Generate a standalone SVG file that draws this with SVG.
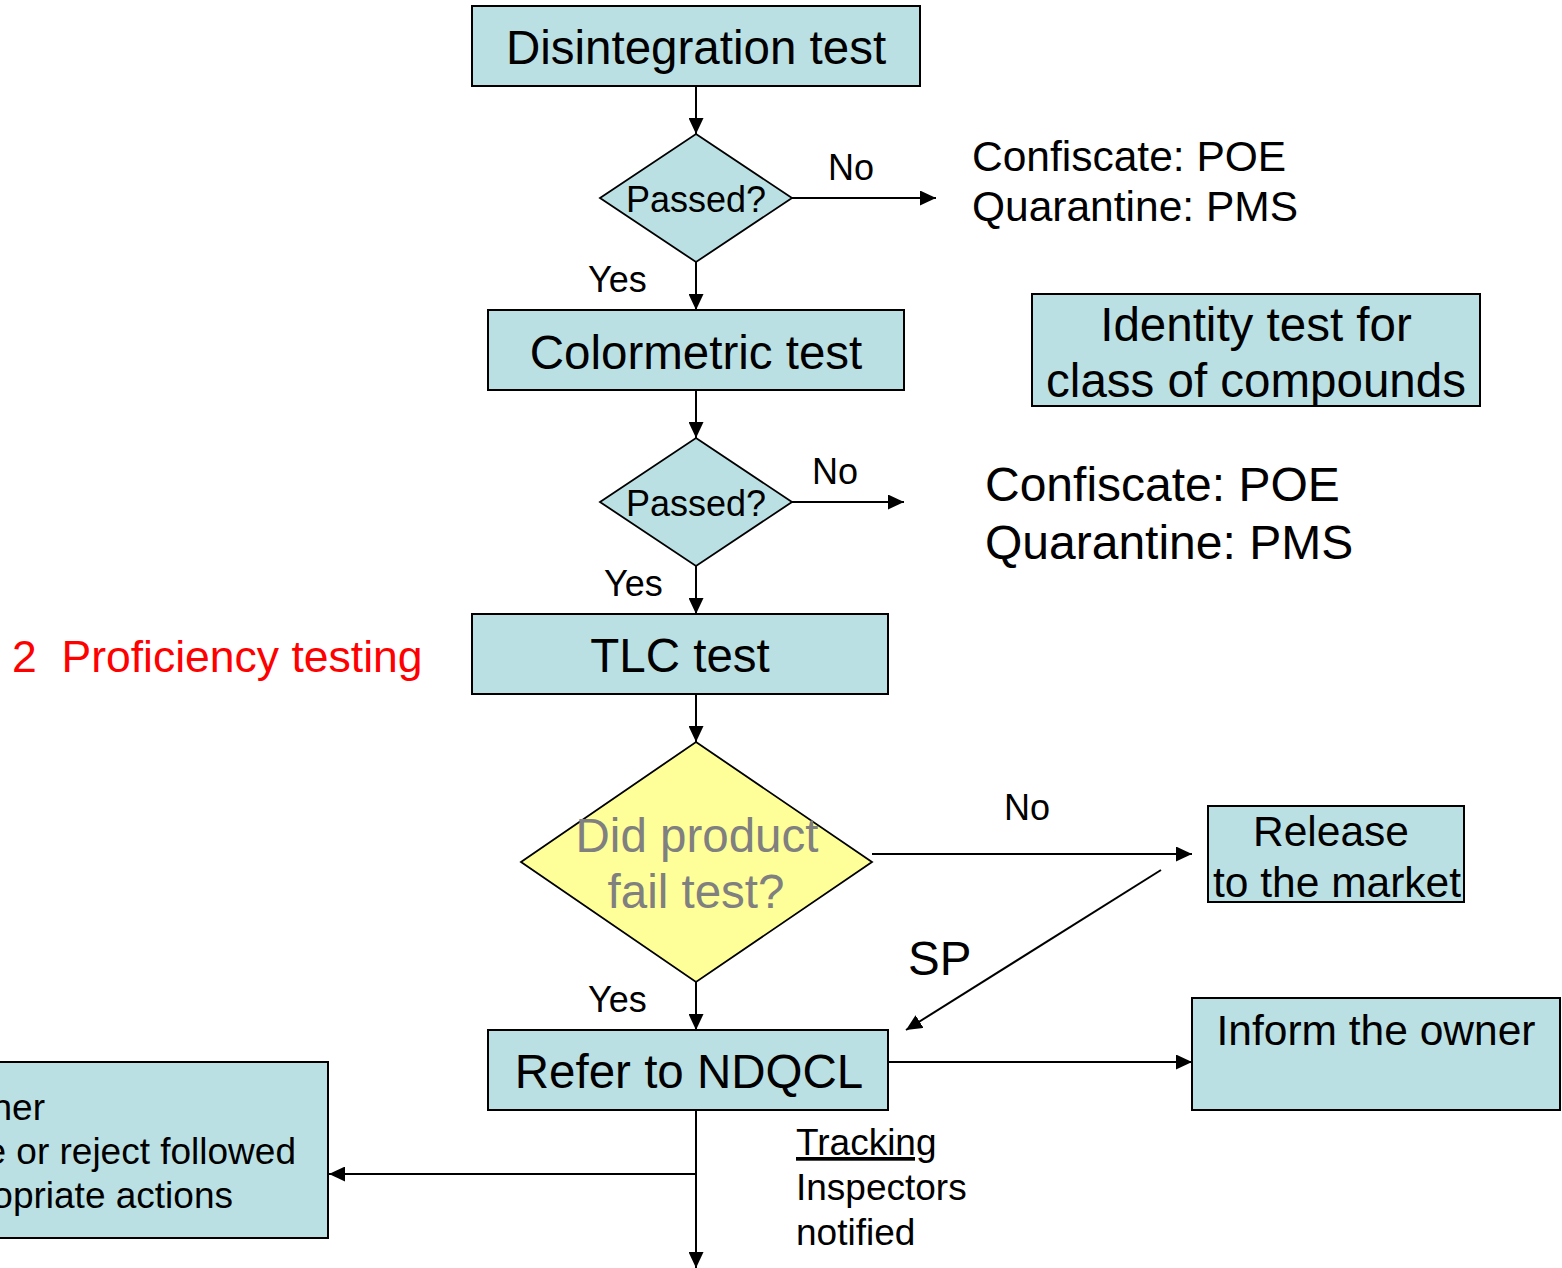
<svg xmlns="http://www.w3.org/2000/svg" width="1562" height="1268" viewBox="0 0 1562 1268">
<style>
.box{fill:#BBE0E3;stroke:#000;stroke-width:2}
.dec{fill:#BBE0E3;stroke:#000;stroke-width:1.8}
.ydec{fill:#FFFF99;stroke:#000;stroke-width:1.8}
text{font-family:"Liberation Sans",Arial,sans-serif;fill:#000}
.c{text-anchor:middle}
.big{font-size:47.5px}
.mid{font-size:42.5px}
.sm{font-size:36px}
.lbl{font-size:37px}
.conn{fill:none;stroke:#000;stroke-width:2;marker-end:url(#ah)}
</style>
<defs>
<marker id="ah" markerUnits="userSpaceOnUse" markerWidth="16" markerHeight="15" refX="16" refY="7.5" orient="auto">
<path d="M0,0 L16,7.5 L0,15 Z" fill="#000"/>
</marker>
</defs>
<rect width="1562" height="1268" fill="#fff"/>

<g id="connectors">
<path class="conn" d="M696,86 V134"/>
<path class="conn" d="M792,198 H936"/>
<path class="conn" d="M696,262 V310"/>
<path class="conn" d="M696,390 V438"/>
<path class="conn" d="M792,502 H904"/>
<path class="conn" d="M696,566 V614"/>
<path class="conn" d="M696,694 V742"/>
<path class="conn" d="M872,854 H1192"/>
<path class="conn" d="M1161,870 L906,1030"/>
<path class="conn" d="M696,982 V1030"/>
<path class="conn" d="M888,1062 H1192"/>
<path class="conn" d="M696,1110 V1268"/>
<path class="conn" d="M696,1174 H329"/>
<text class="sm" x="828" y="180">No</text>
<text class="sm" x="588" y="292">Yes</text>
<text class="sm" x="812" y="484">No</text>
<text class="sm" x="604" y="596">Yes</text>
<text class="sm" x="1004" y="820">No</text>
<text class="big" x="908" y="975">SP</text>
<text class="sm" x="588" y="1012">Yes</text>
</g>

<g id="disintegration">
<rect class="box" x="472" y="6" width="448" height="80"/>
<text class="big c" x="696" y="64">Disintegration test</text>
</g>

<g id="passed1">
<polygon class="dec" points="696,134 792,198 696,262 600,198"/>
<text class="sm c" x="696" y="212">Passed?</text>
</g>

<g id="confiscate1">
<text class="mid" x="972" y="171">Confiscate: POE</text>
<text class="mid" x="972" y="221">Quarantine: PMS</text>
</g>

<g id="colormetric">
<rect class="box" x="488" y="310" width="416" height="80"/>
<text class="big c" x="696" y="369">Colormetric test</text>
</g>

<g id="identity">
<rect class="box" x="1032" y="294" width="448" height="112"/>
<text class="big c" x="1256" y="341">Identity test for</text>
<text class="big c" x="1256" y="397">class of compounds</text>
</g>

<g id="passed2">
<polygon class="dec" points="696,438 792,502 696,566 600,502"/>
<text class="sm c" x="696" y="516">Passed?</text>
</g>

<g id="confiscate2">
<text x="985" y="501" style="font-size:48px">Confiscate: POE</text>
<text x="985" y="559" style="font-size:48px">Quarantine: PMS</text>
</g>

<g id="proficiency">
<text x="12" y="672" style="font-size:44.5px;fill:#FF0000" xml:space="preserve">2  Proficiency testing</text>
</g>

<g id="tlc">
<rect class="box" x="472" y="614" width="416" height="80"/>
<text class="big c" x="680" y="672">TLC test</text>
</g>

<g id="fail">
<polygon class="ydec" points="696,742 872,862 696,982 521,862"/>
<text class="big c" x="697" y="852" style="fill:#808080">Did product</text>
<text class="big c" x="696" y="908" style="fill:#808080">fail test?</text>
</g>

<g id="release">
<rect class="box" x="1208" y="806" width="256" height="96"/>
<text class="mid c" x="1331" y="846">Release</text>
<text class="mid c" x="1337" y="897">to the market</text>
</g>

<g id="refer">
<rect class="box" x="488" y="1030" width="400" height="80"/>
<text class="big c" x="689" y="1088">Refer to NDQCL</text>
</g>

<g id="inform">
<rect class="box" x="1192" y="998" width="368" height="112"/>
<text class="mid c" x="1376" y="1045">Inform the owner</text>
</g>

<g id="leftbox">
<rect class="box" x="-10" y="1062" width="338" height="176"/>
<text class="lbl" x="45" y="1120" text-anchor="end">ner</text>
<text class="lbl" x="296" y="1164" text-anchor="end">e or reject followed</text>
<text class="lbl" x="233" y="1208" text-anchor="end">opriate actions</text>
</g>

<g id="tracking">
<text class="lbl" x="796" y="1155" text-decoration="underline">Tracking</text>
<text class="lbl" x="796" y="1200">Inspectors</text>
<text class="lbl" x="796" y="1245">notified</text>
</g>
</svg>
